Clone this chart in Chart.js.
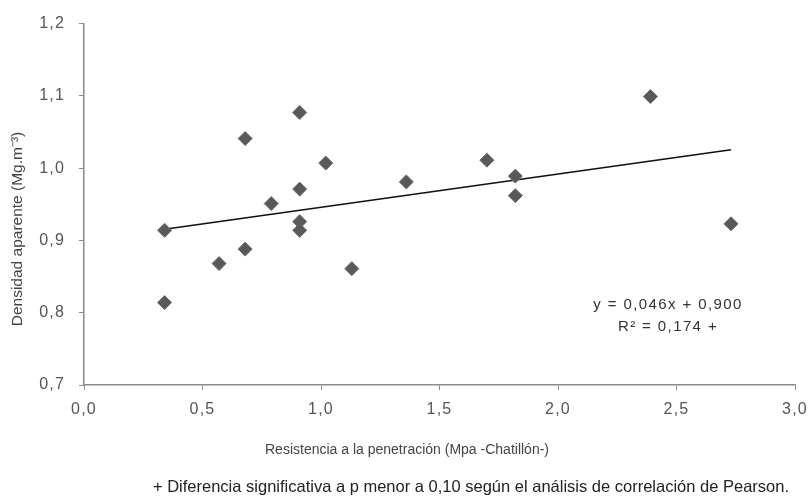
<!DOCTYPE html>
<html>
<head>
<meta charset="utf-8">
<script src="https://cdn.jsdelivr.net/npm/chart.js@4"></script>
<style>
    html, body { margin: 0; padding: 0; background: #fff; }
    #wrap { width: 811px; height: 497px; }
</style>
</head>
<body>
<div id="wrap"><canvas id="density-chart" width="811" height="497"></canvas></div>
<script>
// values
const resistance = [0.34, 0.34, 0.57, 0.68, 0.68, 0.79, 0.91, 0.91, 0.91, 0.91, 1.02, 1.13, 1.36, 1.70, 1.82, 1.82, 2.39, 2.73];
const density = [0.914, 0.814, 0.868, 0.888, 1.041, 0.951, 1.077, 0.971, 0.926, 0.914, 1.007, 0.861, 0.981, 1.011, 0.989, 0.962, 1.099, 0.923];

const slope = 0.046;
const intercept = 0.900;

const equationLines = ['y = 0,046x + 0,900', 'R² = 0,174 +'];
const yAxisTitle = 'Densidad aparente (Mg.m⁻³)';
const xAxisTitle = 'Resistencia a la penetración (Mpa -Chatillón-)';
const footnote = '+ Diferencia significativa a p menor a 0,10 según el análisis de correlación de Pearson.';

const points = resistance.map((x, i) => ({ x, y: density[i] }));
const xMin = Math.min(...resistance);
const xMax = Math.max(...resistance);
const trend = [xMin, xMax].map((x) => ({ x, y: slope * x + intercept }));

const formatComma = (value) => Number(value).toFixed(1).replace('.', ',');

const fontFamily = 'Liberation Sans, Arial, sans-serif';
const axisColor = '#8a8a8a';
const labelFont = { family: fontFamily, size: 16 };

// tick labels in the figure are a bit wider than plain Arial
const spacingPlugin = {
    id: 'spacing',
    beforeDraw(chart) {
        chart.ctx.letterSpacing = '1.2px';
    },
};

// extra texts placed by hand: y title, x title, equation, footnote
const textPlugin = {
    id: 'texts',
    afterDraw(chart) {
        const { ctx } = chart;
        ctx.save();
        ctx.letterSpacing = '0px';
        ctx.fillStyle = '#444';
        ctx.textAlign = 'center';
        ctx.textBaseline = 'middle';

        ctx.font = `15.5px ${fontFamily}`;
        ctx.save();
        ctx.translate(18, 229);
        ctx.rotate(-Math.PI / 2);
        ctx.fillText(yAxisTitle, 0, 0);
        ctx.restore();

        ctx.font = `14px ${fontFamily}`;
        ctx.fillText(xAxisTitle, 407, 450);

        ctx.fillStyle = '#333';
        ctx.font = `15px ${fontFamily}`;
        ctx.letterSpacing = '1.4px';
        ctx.fillText(equationLines[0], 668, 305);
        ctx.fillText(equationLines[1], 668, 327);

        ctx.letterSpacing = '0px';
        ctx.fillStyle = '#222';
        ctx.font = `16.5px ${fontFamily}`;
        ctx.fillText(footnote, 471, 487);
        ctx.restore();
    },
};

const noLabelPadding = (scale) => {
    scale.paddingLeft = 0;
    scale.paddingRight = 0;
};

new Chart(document.getElementById('density-chart'), {
    data: {
        datasets: [
            {
                type: 'scatter',
                data: points,
                pointStyle: 'rectRot',
                pointRadius: 7,
                pointHoverRadius: 7,
                backgroundColor: '#595959',
                borderColor: '#6a6a6a',
                borderWidth: 1,
            },
            {
                type: 'line',
                data: trend,
                borderColor: '#111',
                borderWidth: 1.5,
                pointRadius: 0,
                fill: false,
            },
        ],
    },
    options: {
        responsive: false,
        animation: false,
        layout: {
            padding: { top: 20, right: 16, left: 0, bottom: 0 },
        },
        plugins: {
            legend: { display: false },
            tooltip: { enabled: false },
        },
        scales: {
            x: {
                type: 'linear',
                min: 0,
                max: 3,
                afterFit: (scale) => {
                    scale.height = 112;
                    noLabelPadding(scale);
                },
                ticks: {
                    stepSize: 0.5,
                    color: '#555',
                    font: labelFont,
                    padding: 10,
                    callback: formatComma,
                },
                grid: {
                    drawOnChartArea: false,
                    drawTicks: true,
                    tickLength: 5,
                    color: axisColor,
                },
                border: { color: axisColor, width: 1.5 },
            },
            y: {
                type: 'linear',
                min: 0.7,
                max: 1.2,
                afterFit: (scale) => { scale.width = 84; },
                ticks: {
                    stepSize: 0.1,
                    color: '#555',
                    font: labelFont,
                    padding: 14,
                    callback: formatComma,
                },
                grid: {
                    drawOnChartArea: false,
                    drawTicks: true,
                    tickLength: 5,
                    color: axisColor,
                },
                border: { color: axisColor, width: 1.5 },
            },
        },
    },
    plugins: [spacingPlugin, textPlugin],
});
</script>
</body>
</html>
